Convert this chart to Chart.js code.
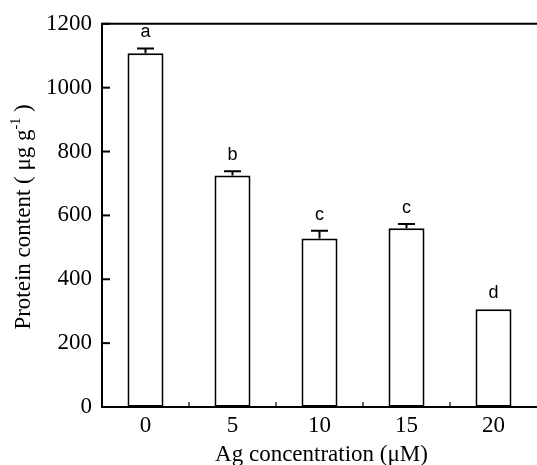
<!DOCTYPE html>
<html>
<head>
<meta charset="utf-8">
<script src="https://cdn.jsdelivr.net/npm/chart.js@4/dist/chart.umd.min.js"></script>
<style>
html,body{margin:0;padding:0;background:#fff;}
canvas{display:block;}
</style>
</head>
<body>
<canvas id="c" width="537" height="465"></canvas>
<script>
const categories = ['0', '5', '10', '15', '20'];
const protein = [1108, 725, 528, 560, 306];
const errors = [15, 13, 24, 13, 0];
const letters = ['a', 'b', 'c', 'c', 'd'];
const yTicks = [0, 200, 400, 600, 800, 1000, 1200];
const xTitle = 'Ag concentration (\u03bcM)';
const yTitle = 'Protein content ( \u03bcg g';

const SERIF = '"Liberation Serif", "Times New Roman", serif';
const SANS = '"Liberation Sans", Arial, sans-serif';

const decor = {
  id: 'decor',
  afterDatasetsDraw(chart) {
    const ctx = chart.ctx;
    const x = chart.scales.x, y = chart.scales.y;
    const area = chart.chartArea;
    const meta = chart.getDatasetMeta(0);
    ctx.save();
    ctx.strokeStyle = '#000';
    ctx.fillStyle = '#000';
    meta.data.forEach((bar, i) => {
      const top = y.getPixelForValue(protein[i] + errors[i]);
      if (errors[i] > 0) {
        ctx.lineWidth = 2;
        ctx.beginPath();
        ctx.moveTo(bar.x, bar.y);
        ctx.lineTo(bar.x, top);
        ctx.moveTo(bar.x - 8.5, top);
        ctx.lineTo(bar.x + 8.5, top);
        ctx.stroke();
      }
      ctx.font = '18px ' + SANS;
      ctx.textAlign = 'center';
      ctx.textBaseline = 'alphabetic';
      ctx.fillText(letters[i], bar.x, top - 11);
    });
    ctx.lineWidth = 2;
    ctx.beginPath();
    ctx.moveTo(area.left - 1, area.top);
    ctx.lineTo(chart.width, area.top);
    ctx.stroke();
    y.ticks.forEach(t => {
      const py = y.getPixelForValue(t.value);
      ctx.beginPath();
      ctx.moveTo(area.left, py);
      ctx.lineTo(area.left + 8, py);
      ctx.stroke();
    });
    ctx.lineWidth = 1.2;
    for (let i = 0; i < categories.length - 1; i++) {
      const px = (x.getPixelForTick(i) + x.getPixelForTick(i + 1)) / 2;
      ctx.beginPath();
      ctx.moveTo(px, area.bottom);
      ctx.lineTo(px, area.bottom - 5);
      ctx.stroke();
    }
    ctx.font = '23px ' + SERIF;
    ctx.textAlign = 'center';
    ctx.textBaseline = 'middle';
    ctx.fillText(xTitle, (area.left + chart.width) / 2 + 2, 455);
    ctx.translate(24, 217);
    ctx.rotate(-Math.PI / 2);
    ctx.font = '23px ' + SERIF;
    const w1 = ctx.measureText(yTitle).width;
    ctx.font = '14px ' + SERIF;
    const w2 = ctx.measureText('-1').width;
    ctx.font = '23px ' + SERIF;
    const w3 = ctx.measureText(' )').width;
    const total = w1 + w2 + w3;
    let sx = -total / 2;
    ctx.textAlign = 'left';
    ctx.fillText(yTitle, sx, 0);
    sx += w1;
    ctx.font = '14px ' + SERIF;
    ctx.fillText('-1', sx, -8);
    sx += w2;
    ctx.font = '23px ' + SERIF;
    ctx.fillText(' )', sx, 0);
    ctx.restore();
  }
};

new Chart(document.getElementById('c'), {
  type: 'bar',
  data: {
    labels: categories,
    datasets: [{
      data: protein,
      backgroundColor: '#ffffff',
      borderColor: '#000000',
      borderWidth: 2,
      borderSkipped: false,
      categoryPercentage: 1,
      barPercentage: 0.414
    }]
  },
  options: {
    responsive: false,
    devicePixelRatio: 1,
    animation: false,
    layout: { padding: { left: 0, top: 22, right: 0, bottom: 0 } },
    plugins: { legend: { display: false }, tooltip: { enabled: false } },
    scales: {
      x: {
        offset: true,
        grid: { display: false, drawTicks: false },
        border: { display: true, color: '#000', width: 2 },
        ticks: { color: '#000', font: { family: SERIF, size: 23 }, padding: 5, maxRotation: 0 },
        afterFit(s) { s.height = 58; }
      },
      y: {
        min: 0, max: 1200,
        afterBuildTicks(s) { s.ticks = yTicks.map(v => ({ value: v })); },
        grid: { display: false, drawTicks: false },
        border: { display: true, color: '#000', width: 2 },
        ticks: { color: '#000', font: { family: SERIF, size: 23 }, padding: 10, callback: v => String(v) },
        afterFit(s) { s.width = 102; }
      }
    }
  },
  plugins: [decor]
});
</script>
</body>
</html>
